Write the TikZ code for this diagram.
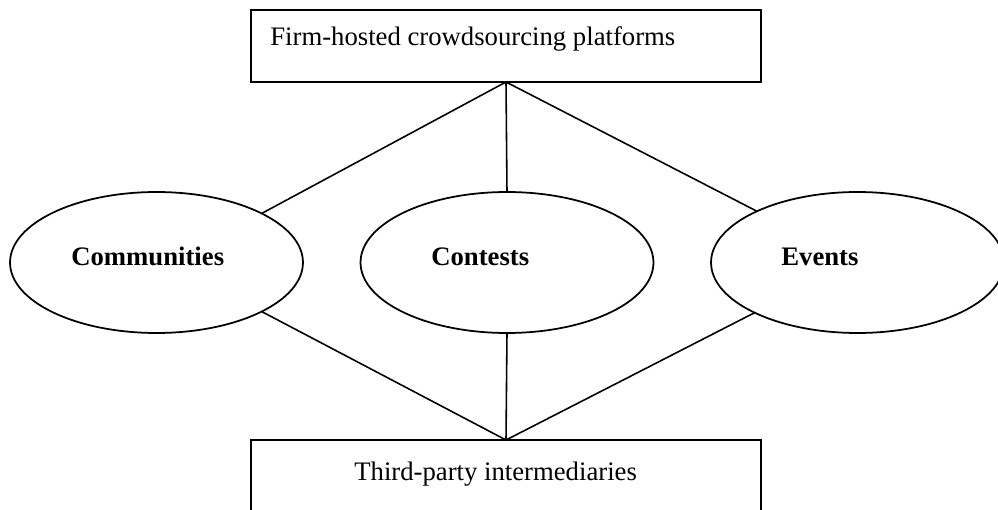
\documentclass[tikz,border=0pt]{standalone}
\usepackage{fontspec}
\setmainfont{Liberation Serif}
\usetikzlibrary{positioning,shapes.geometric}

\begin{document}
\begin{tikzpicture}[x=0.02cm, y=-0.02cm,
  font=\fontsize{15.2}{18}\selectfont,
  box/.style={draw, line width=1.3pt, minimum width=10.2cm, minimum height=1.44cm, inner sep=0pt, outer sep=0pt},
  oval/.style={draw, ellipse, line width=1pt, minimum width=\ovalw cm, minimum height=\ovalh cm, inner sep=0pt, outer sep=0pt},
  link/.style={line width=0.9pt},
  word/.style={anchor=base west, inner sep=0pt}]

% Sizes
\def\ovalw{5.86}
\def\ovalh{2.82}

\clip (0,0) rectangle (998,510);
\fill[white] (0,0) rectangle (998,510);

% Boxes
\node[box] (firm) at (506,46) {};
\node[word] (firmtext) at (270,46) {Firm-hosted crowdsourcing platforms};

\node[box] (third) at (506,476) {};
\node[word] (thirdtext) at (354,480) {Third-party intermediaries};

% Ovals
\foreach \name/\x/\tx/\text in {
comm/156.5/71/Communities,
cont/507/431/Contests,
event/857.5/781/Events
} {
  \node[oval] (\name) at (\x,262.5) {};
  \node[word] (\name text) at (\tx,265) {\textbf{\text}};
}

% Links
\draw[link] (firm.south) -- (comm.25.6);
\draw[link] (firm.south) -- (cont.north);
\draw[link] (firm.south) -- (event.153.3);
\draw[link] (third.north) -- (comm.-25.6);
\draw[link] (third.north) -- (cont.south);
\draw[link] (third.north) -- (event.206.7);

\end{tikzpicture}
\end{document}
